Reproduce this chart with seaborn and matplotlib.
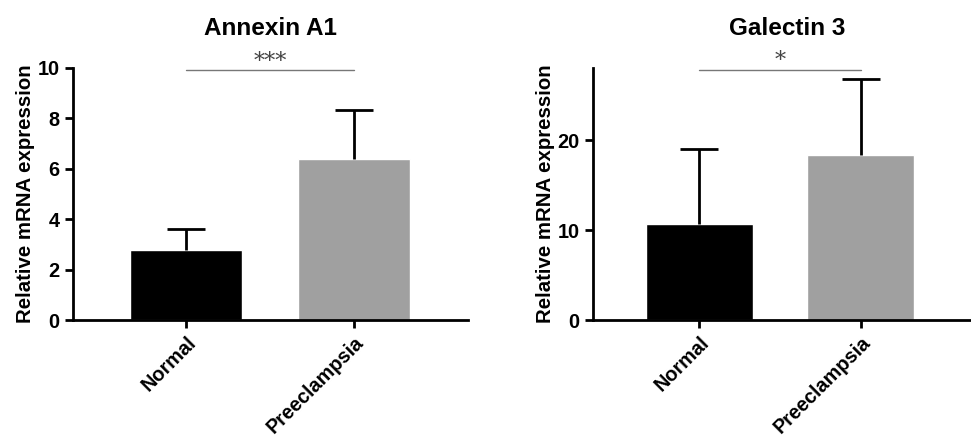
import numpy as np
import pandas as pd
import matplotlib.pyplot as plt
import seaborn as sns

groups = ["Normal", "Preeclampsia"]
annexin_mean = [2.79, 6.40]
annexin_sd = [0.82, 1.94]
galectin_mean = [10.7, 18.3]
galectin_sd = [8.3, 8.5]
colors = ["#000000", "#a0a0a0"]

sns.set_style("ticks")
plt.rcParams['font.family'] = ['Liberation Sans', 'DejaVu Sans']
plt.rcParams['font.weight'] = 'bold'
plt.rcParams['text.color'] = 'black'
plt.rcParams['axes.labelcolor'] = 'black'
plt.rcParams['axes.edgecolor'] = 'black'
plt.rcParams['xtick.color'] = 'black'
plt.rcParams['ytick.color'] = 'black'

fig = plt.figure(figsize=(9.71, 4.37), dpi=100)
ax1 = fig.add_axes([0.0752, 0.2677, 0.407, 0.5767])
ax2 = fig.add_axes([0.6107, 0.2677, 0.40, 0.5767])


def panel(ax, means, sds, title, ylim, yticks, stars, sig_y, xlim):
    df = pd.DataFrame({"group": groups, "value": means})
    sns.barplot(data=df, x="group", y="value", hue="group", palette=colors,
                width=0.665, errorbar=None, legend=False, ax=ax, saturation=1)
    eb = ax.errorbar([0, 1], means, yerr=[[0, 0], sds], fmt="none", ecolor="black",
                     elinewidth=2, capsize=14, capthick=2, zorder=3)
    # keep only the upper caps
    eb[1][0].set_visible(False)
    ax.set_ylim(*ylim)
    ax.set_xlim(*xlim)
    ax.set_yticks(yticks)
    ax.set_xlabel("")
    ax.set_ylabel("Relative mRNA expression", fontsize=14.7, fontweight="bold",
                  labelpad=2)
    ax.set_title(title, fontsize=17.5, fontweight="bold", pad=24)
    ax.tick_params(axis="both", width=2, length=6, labelsize=14.3)
    plt.setp(ax.get_xticklabels(), rotation=45, ha="right", rotation_mode="anchor",
             fontweight="bold")
    plt.setp(ax.get_yticklabels(), fontweight="bold")
    for s in ["left", "bottom"]:
        ax.spines[s].set_linewidth(2)
    sns.despine(ax=ax)
    ax.plot([0, 1], [sig_y, sig_y], color="#777777", lw=1, clip_on=False)
    ax.annotate(stars, xy=(0.5, sig_y), xytext=(0, 6), textcoords="offset points",
                ha="center", va="center", fontsize=16, color="#444444",
                family="DejaVu Serif", fontweight="normal", annotation_clip=False)


panel(ax1, annexin_mean, annexin_sd, "Annexin A1", (0, 10), [0, 2, 4, 6, 8, 10],
      "***", 9.92, (-0.673, 1.679))
panel(ax2, galectin_mean, galectin_sd, "Galectin 3", (0, 28), [0, 10, 20],
      "*", 27.8, (-0.66, 1.75))

fig.savefig("out.png", dpi=100)
